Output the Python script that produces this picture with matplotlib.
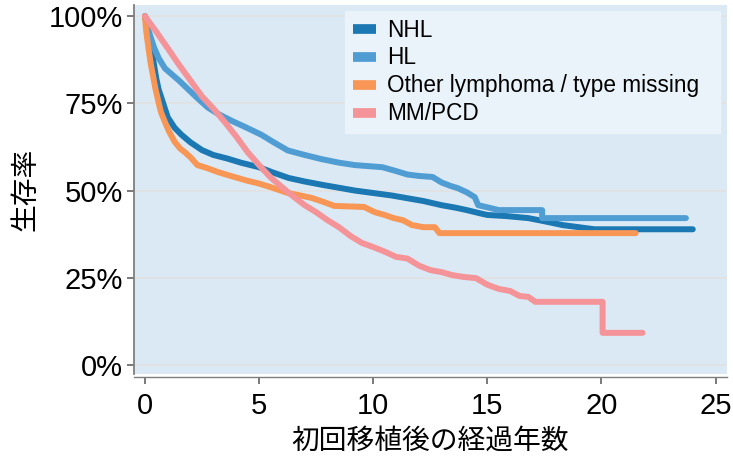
import matplotlib
matplotlib.use("Agg")
import matplotlib.pyplot as plt

plt.rcParams['font.family'] = ['Liberation Sans', 'Noto Sans CJK JP', 'DejaVu Sans']

# Kaplan-Meier estimates (years, survival %)
nhl_t = [0, 0.1, 0.2, 0.3, 0.4, 0.5, 0.6, 0.7, 0.8, 1.0, 1.3, 1.6, 2.0, 2.5, 3.0, 3.6,
         4.2, 5.0, 5.6, 6.3, 7.0, 7.8, 8.5, 9.2, 10.0, 10.8, 11.5, 12.2, 13.0, 13.6,
         14.1, 14.6, 15.0, 15.8, 16.8, 17.5, 18.3, 19.0, 19.7, 24.0]
nhl_s = [100, 97, 94, 90, 86, 82, 79, 77, 75, 71, 68, 66, 63.8, 61.6, 60.2, 59.2,
         58, 56.7, 55.2, 53.6, 52.6, 51.6, 50.8, 50, 49.3, 48.6, 47.8, 47, 45.8, 45.1,
         44.4, 43.6, 43, 42.7, 42.1, 41.2, 40.1, 39.5, 38.9, 38.9]

hl_t = [0, 0.1, 0.22, 0.4, 0.6, 0.88, 1.2, 1.5, 1.9, 2.3, 2.76, 3.2, 3.8, 4.4, 5.1,
        5.6, 6.26, 7.0, 7.75, 8.5, 9.2, 10.4, 11.0, 11.5, 12.0, 12.6, 13.0, 13.4,
        13.7, 14.1, 14.45, 14.6, 15.0, 15.5, 17.4, 17.4, 23.7]
hl_s = [100, 97, 94.6, 91, 88, 85, 83.2, 81.5, 79, 76.5, 73.8, 72, 70, 68.2, 66,
        64, 61.5, 60.2, 59, 58, 57.3, 56.7, 55.6, 54.6, 54.2, 53.9, 52.3, 51.3,
        50.7, 49.5, 48.1, 45.8, 45.2, 44.4, 44.4, 42.1, 42.1]

oth_t = [0, 0.05, 0.15, 0.25, 0.35, 0.45, 0.57, 0.7, 0.88, 1.05, 1.3, 1.55, 1.75, 2.0,
         2.3, 2.7, 3.2, 3.6, 4.07, 4.5, 4.95, 5.5, 6.26, 6.8, 7.3, 7.8, 8.3, 9.6,
         10.07, 10.5, 10.9, 11.3, 11.7, 12.2, 12.7, 12.9, 21.5]
oth_s = [100, 96, 91, 86.5, 83, 79.5, 76, 72.5, 69.6, 67, 64, 62, 61, 59.5,
         57.3, 56.5, 55.3, 54.5, 53.6, 52.8, 52.1, 51, 49.3, 48.6, 47.9, 46.8, 45.6, 45.3,
         43.8, 43.0, 42.1, 41.5, 40.1, 39.5, 39.5, 37.8, 37.8]

mm_t = [0, 0.5, 1.0, 1.5, 2.0, 2.5, 3.0, 3.5, 4.0, 4.5, 5.0, 5.5, 6.0, 6.5, 7.0, 7.5,
        8.0, 8.5, 9.0, 9.5, 10.0, 10.5, 11.0, 11.5, 12.0, 12.5, 13.0, 13.5, 14.0, 14.5,
        15.0, 15.5, 16.0, 16.4, 16.8, 17.1, 20.05, 20.05, 21.8]
mm_s = [100, 95.5, 90.8, 86, 81.5, 77, 73.5, 69.6, 65.5, 61, 57.3, 53.8, 51, 48.3, 45.8, 43.8,
        41.5, 39.5, 37, 35, 33.8, 32.5, 31, 30.5, 28.5, 27.2, 26.6, 25.7, 25.2, 24.9,
        23, 21.8, 21.2, 19.8, 19.5, 18.1, 18.1, 9.2, 9.2]

labels = ["NHL", "HL", "Other lymphoma / type missing  ", "MM/PCD"]
colors = ["#1b78b2", "#509dd4", "#f89655", "#f59498"]
yticks = [0, 25, 50, 75, 100]
xticks = [0, 5, 10, 15, 20, 25]

fig = plt.figure(figsize=(7.33, 4.59), dpi=100)
ax = fig.add_axes([0.1828, 0.1852, 0.809, 0.8038])
ax.set_facecolor("#dbe9f5")

series = [(nhl_t, nhl_s), (hl_t, hl_s), (oth_t, oth_s), (mm_t, mm_s)]
for (t, s), lab, c in zip(series, labels, colors):
    ax.plot(t, s, color=c, lw=4.3, label=lab,
            solid_capstyle="round", solid_joinstyle="round")

ax.set_xlim(-0.48, 25.5)
ax.set_ylim(-2.6, 103.2)
ax.set_yticks(yticks)
ax.set_yticklabels([f"{v}%" for v in yticks])
ax.set_xticks(xticks)
ax.grid(axis="y", color="#e2e2e2", lw=1.3)
ax.set_axisbelow(True)

for side in ["top", "right"]:
    ax.spines[side].set_visible(False)
ax.spines["left"].set_color("#7f7f7f")
ax.spines["left"].set_linewidth(1.3)
ax.spines["bottom"].set_color("#7f7f7f")
ax.spines["bottom"].set_linewidth(1.0)
ax.spines["bottom"].set_position(("outward", 2))
ax.tick_params(axis="y", length=5, width=1.1, color="#555555", labelsize=21, pad=3)
ax.tick_params(axis="x", length=5, width=1.1, color="#555555", labelsize=21, pad=6)

ax.set_xlabel("初回移植後の経過年数", fontsize=20, family=["Noto Sans CJK JP"], labelpad=4)
ax.set_ylabel("生存率", fontsize=20, family=["Noto Sans CJK JP"], labelpad=6)

leg = ax.legend(loc="upper right", bbox_to_anchor=(0.988, 0.985), borderaxespad=0,
                fontsize=16.3, frameon=True, fancybox=False, facecolor="#eaf3fa",
                edgecolor="#eaf3fa", framealpha=1, handlelength=1.0, handletextpad=0.5,
                labelspacing=0.22, borderpad=0.35)
for h in leg.get_lines():
    h.set_linewidth(7)
    h.set_solid_capstyle("butt")

fig.savefig("out.png", dpi=100)
